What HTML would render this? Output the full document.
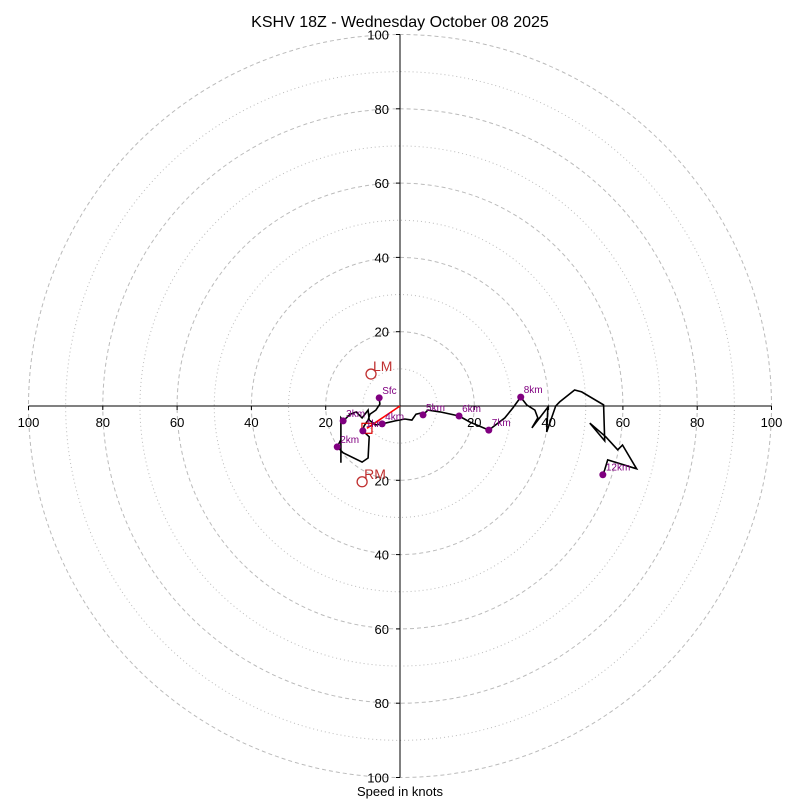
<!DOCTYPE html>
<html><head><meta charset="utf-8"><style>
body{margin:0;background:#fff;}
svg{display:block;font-family:"Liberation Sans",sans-serif;}
</style></head><body>
<svg id="chart" width="800" height="800"></svg>
<script>
// data (knots)
const pathU=[-5.6,-5.4,-6.5,-8.1,-8.6,-9.7,-10.0,-8.3,-8.6,-10.2,-15.3,-16.9,-15.9,-15.9,-15.9,-15.3,-13.4,-11.8,-10.2,-8.6,-8.3,-6.5,-4.8,-1.3,1.3,3.2,4.3,5.6,6.2,7.5,10.8,15.9,18.8,23.9,28.2,30.4,32.5,34.1,36.3,37.1,35.5,39.8,39.5,41.9,43.0,47.0,48.9,54.8,55.1,51.1,55.4,58.6,59.9,63.7,55.9,55.1,54.6];
const pathV=[2.2,0.5,-1.1,-2.2,-3.8,-5.4,-6.7,-8.3,-14.0,-15.1,-12.6,-11.0,-9.1,-15.3,-3.2,-4.0,-2.2,-1.6,-3.2,-1.1,-3.8,-5.1,-4.8,-4.0,-3.5,-3.8,-2.2,-1.9,-2.4,-1.1,-1.6,-2.7,-4.3,-6.5,-3.2,-0.5,2.4,0.3,-1.1,-3.2,-5.9,-0.3,-7.0,0,1.1,4.3,3.8,0.3,-9.4,-4.6,-8.3,-11.8,-10.5,-16.9,-14.5,-17.2,-18.5];
const markLabels=["Sfc","1km","2km","3km","4km","5km","6km","7km","8km","12km"];
const markU=[-5.6,-10.0,-16.9,-15.3,-4.8,6.2,15.9,23.9,32.5,54.6];
const markV=[2.2,-6.7,-11.0,-4.0,-4.8,-2.4,-2.7,-6.5,2.4,-18.5];
const motionLabels=["LM","RM"];
const motionU=[-7.8,-10.2];
const motionV=[8.6,-20.4];
const meanU=-8.9, meanV=-6.0;
const ringVals=[10,20,30,40,50,60,70,80,90,100];
const tickVals=[20,40,60,80,100];

const NS="http://www.w3.org/2000/svg";
const svg=document.getElementById('chart');
const cx=400, cy=406, k=3.715;
const X=u=>cx+u*k, Y=v=>cy-v*k;
function el(t,a,p){const e=document.createElementNS(NS,t);for(const n in a)e.setAttribute(n,a[n]);(p||svg).appendChild(e);return e;}
function txt(s,a){const e=el('text',a);e.textContent=s;return e;}

ringVals.forEach(r=>{
  const c=el('circle',{cx:cx,cy:cy,r:r*k,fill:'none',stroke:'#bbb','stroke-width':1,'stroke-dasharray':r%20===0?'4,3':'1,3'});
  
  
});
const ax1=el('line',{x1:X(-100),y1:cy,x2:X(100),y2:cy,stroke:'#000','stroke-width':1});


const ax2=el('line',{x1:cx,y1:Y(100),x2:cx,y2:Y(-100),stroke:'#000','stroke-width':1});


tickVals.forEach(t=>{
  [-1,1].forEach(s=>{
    const a=txt(String(t),{x:X(s*t),y:cy+21,'text-anchor':'middle','font-size':13});
    
    
    el('line',{x1:X(s*t),y1:cy,x2:X(s*t),y2:cy+4,stroke:'#000'});
    const b=txt(String(t),{x:cx-11,y:Y(s*t)+5,'text-anchor':'end','font-size':13});
    
    
    el('line',{x1:cx-4,y1:Y(s*t),x2:cx,y2:Y(s*t),stroke:'#000'});
  });
});
// hodograph
const pts=pathU.map((u,i)=>X(u).toFixed(1)+','+Y(pathV[i]).toFixed(1)).join(' ');
const pl=el('polyline',{points:pts,fill:'none',stroke:'#000','stroke-width':1.6,'stroke-linejoin':'miter'});


// mean wind
const ml=el('line',{x1:cx,y1:cy,x2:X(meanU),y2:Y(meanV),stroke:'red','stroke-width':1.6});


const mb=el('rect',{x:X(meanU)-5,y:Y(meanV)-5,width:10,height:10,fill:'none',stroke:'#d00','stroke-width':1.2});


markLabels.forEach((l,i)=>{
  const d=el('circle',{cx:X(markU[i]),cy:Y(markV[i]),r:3.5,fill:'purple'});
  
  
  const t=txt(l,{x:X(markU[i])+3,y:Y(markV[i])-4,'font-size':10,fill:'purple'});
  
  
});
motionLabels.forEach((l,i)=>{
  const c=el('circle',{cx:X(motionU[i]),cy:Y(motionV[i]),r:5,fill:'none',stroke:'#c03030','stroke-width':1.3});
  
  
  const t=txt(l,{x:X(motionU[i])+2,y:Y(motionV[i])-3,'font-size':14,fill:'#c03030'});
  
  
});
const title=txt('KSHV 18Z - Wednesday October 08 2025',{x:400,y:27,'text-anchor':'middle','font-size':16});


const xl=txt('Speed in knots',{x:400,y:796,'text-anchor':'middle','font-size':13});


</script>
</body></html>
